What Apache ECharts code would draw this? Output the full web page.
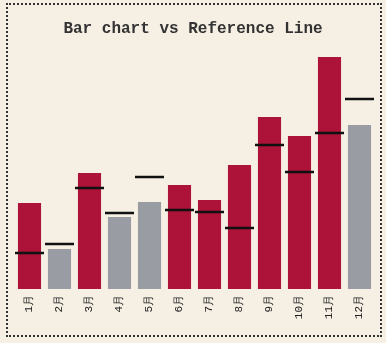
<!DOCTYPE html>
<html>
<head>
<meta charset="utf-8">
<script src="https://cdn.jsdelivr.net/npm/echarts@6/dist/echarts.min.js"></script>
<style>
  html, body { margin: 0; padding: 0; background: #f6efe4; }
  #chart { width: 386px; height: 343px; }
  #frame {
    position: absolute; left: 6px; top: 3px; width: 376px; height: 334px;
    box-sizing: border-box; border: 2px dotted #333; pointer-events: none;
  }
</style>
</head>
<body>
<div id="chart"></div>
<div id="frame"></div>
<script>
// Monthly values and their reference targets
const months = ['1月', '2月', '3月', '4月', '5月', '6月', '7月', '8月', '9月', '10月', '11月', '12月'];
const actual = [86, 40, 116, 72, 87, 104, 89, 124, 172, 153, 232, 164];
const reference = [36, 45, 101, 76, 112, 79, 77, 61, 144, 117, 156, 190];

const ABOVE = '#ad1239';
const BELOW = '#9a9ca3';

const chart = echarts.init(document.getElementById('chart'));
chart.setOption({
  backgroundColor: '#f6efe4',
  animation: false,
  title: {
    text: 'Bar chart vs Reference Line',
    left: 'center',
    top: 16,
    textStyle: { fontFamily: 'Liberation Mono', fontWeight: 'bold', fontSize: 16, color: '#333' }
  },
  grid: { left: 14.5, right: 11.5, top: 39, bottom: 54 },
  xAxis: {
    type: 'category',
    data: months,
    axisLine: { show: false },
    axisTick: { show: false },
    axisLabel: { rotate: 90, margin: 6, fontSize: 11, fontFamily: 'Liberation Mono', color: '#222' }
  },
  yAxis: {
    type: 'value', min: 0, max: 250,
    show: false, splitLine: { show: false }
  },
  series: [
    {
      type: 'bar',
      data: actual,
      barCategoryGap: '23%',
      itemStyle: {
        color: p => (actual[p.dataIndex] > reference[p.dataIndex] ? ABOVE : BELOW)
      }
    },
    {
      type: 'custom',
      data: reference.map((v, i) => [i, v]),
      renderItem: (params, api) => {
        const pt = api.coord([api.value(0), api.value(1)]);
        const w = api.size([1, 0])[0] - 1;
        return {
          type: 'line',
          shape: { x1: pt[0] - w / 2, y1: pt[1], x2: pt[0] + w / 2, y2: pt[1] },
          style: { stroke: '#111', lineWidth: 2.5 }
        };
      },
      z: 5
    }
  ]
});
</script>
</body>
</html>
